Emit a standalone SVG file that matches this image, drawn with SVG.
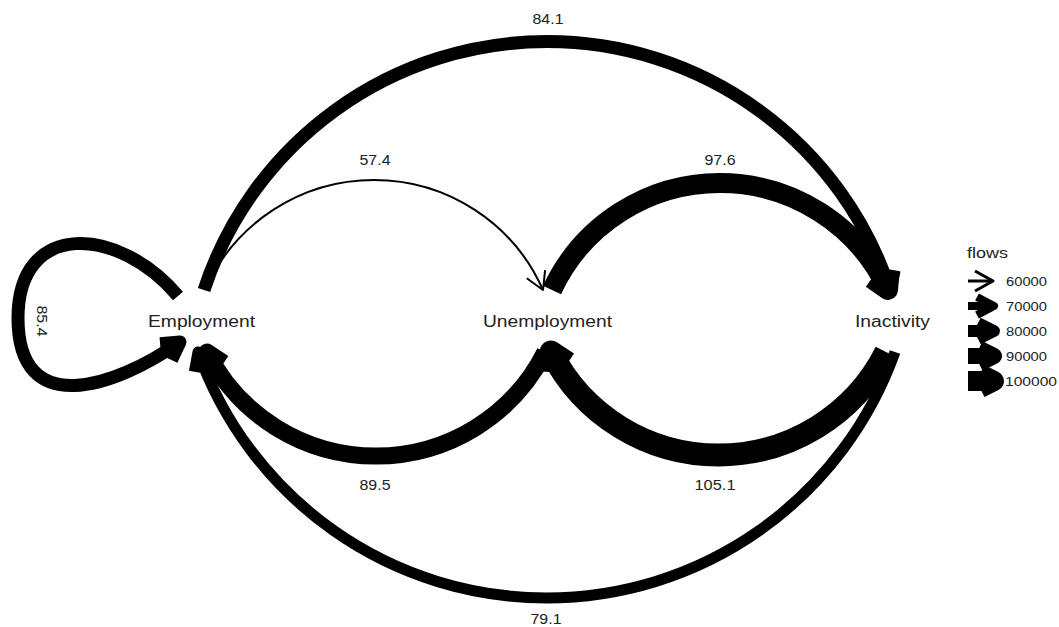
<svg xmlns="http://www.w3.org/2000/svg" width="1059" height="627" viewBox="0 0 1059 627">
<style>
.edge{fill:none;stroke:#000;stroke-linecap:butt}
.head{fill:none;stroke:#000;stroke-linecap:butt;stroke-linejoin:round}
.node{font-family:"Liberation Sans",Arial,sans-serif;font-size:16px;fill:#222;text-anchor:middle}
.lbl{font-family:"Liberation Sans",Arial,sans-serif;font-size:15px;fill:#222;text-anchor:middle}
.leg{font-family:"Liberation Sans",Arial,sans-serif;font-size:13px;fill:#222}
.legt{font-family:"Liberation Sans",Arial,sans-serif;font-size:14px;fill:#222}
</style>
<rect width="1059" height="627" fill="#fff"/>
<g id="connectors">
  <g id="e-E-I">
    <path class="edge" stroke-width="13" d="M204,290 A361,361 0 0 1 890,290"/>
    <polyline class="head" stroke-width="13" points="875.1,276.7 890,290 894.1,270.4"/>
    <text class="lbl" x="548" y="24" textLength="31" lengthAdjust="spacingAndGlyphs">84.1</text>
  </g>
  <g id="e-E-U">
    <path class="edge" stroke-width="2" d="M205,290 A184.8,184.8 0 0 1 543,290"/>
    <polyline class="head" stroke-width="2" points="526.8,278.2 543,290 545.1,270.1"/>
    <text class="lbl" x="375" y="165" textLength="31" lengthAdjust="spacingAndGlyphs">57.4</text>
  </g>
  <g id="e-U-I">
    <path class="edge" stroke-width="20" d="M552,290 A185.4,185.4 0 0 1 888,290"/>
    <polyline class="head" stroke-width="20" points="871.6,278.5 888,290 889.7,270.1"/>
    <text class="lbl" x="720" y="165" textLength="31" lengthAdjust="spacingAndGlyphs">97.6</text>
  </g>
  <g id="e-I-U">
    <path class="edge" stroke-width="23" d="M886,352 A187.7,187.7 0 0 1 551,352"/>
    <polyline class="head" stroke-width="23" points="567.7,363 551,352 549.9,372"/>
    <text class="lbl" x="715" y="490" textLength="41" lengthAdjust="spacingAndGlyphs">105.1</text>
  </g>
  <g id="e-U-E">
    <path class="edge" stroke-width="17" d="M545,352 A189.3,189.3 0 0 1 207,352"/>
    <polyline class="head" stroke-width="17" points="223.7,363 207,352 205.9,372"/>
    <text class="lbl" x="375" y="490" textLength="31" lengthAdjust="spacingAndGlyphs">89.5</text>
  </g>
  <g id="e-I-E">
    <path class="edge" stroke-width="11" d="M895,352 A369.9,369.9 0 0 1 198,352"/>
    <polyline class="head" stroke-width="11" points="213.2,365 198,352 194.4,371.7"/>
    <text class="lbl" x="546" y="624" textLength="31" lengthAdjust="spacingAndGlyphs">79.1</text>
  </g>
  <g id="e-E-E">
    <path class="edge" stroke-width="13" d="M178,296 C118,225 18,220 18,318 C18,420 114,388 180,342"/>
    <polyline class="head" stroke-width="13" points="171.5,360.1 180,342 160.1,343.7"/>
    <text class="lbl" transform="translate(37,321) rotate(90)" x="0" y="0" textLength="31" lengthAdjust="spacingAndGlyphs">85.4</text>
  </g>
</g>
<g id="node-employment"><text class="node" x="201.5" y="327" textLength="107" lengthAdjust="spacingAndGlyphs">Employment</text></g>
<g id="node-unemployment"><text class="node" x="547.5" y="327" textLength="129" lengthAdjust="spacingAndGlyphs">Unemployment</text></g>
<g id="node-inactivity"><text class="node" x="892.5" y="327" textLength="75" lengthAdjust="spacingAndGlyphs">Inactivity</text></g>
<g id="legend">
  <text class="legt" x="967" y="258" textLength="41" lengthAdjust="spacingAndGlyphs">flows</text>
  <g>
    <path class="edge" stroke-width="3" d="M968,281 H993"/>
    <polyline class="head" stroke-width="3" points="975,271 993,281 975,291"/>
    <path class="edge" stroke-width="8" d="M968,306 H994"/>
    <polyline class="head" stroke-width="8" points="977,297 994,306 977,315"/>
    <path class="edge" stroke-width="12" d="M968,331 H994"/>
    <polyline class="head" stroke-width="12" points="978,323 994,331 978,339"/>
    <path class="edge" stroke-width="16" d="M968,356 H994"/>
    <polyline class="head" stroke-width="16" points="979,348.5 994,356 979,363.5"/>
    <path class="edge" stroke-width="20" d="M968,381 H994"/>
    <polyline class="head" stroke-width="20" points="980,374 994,381 980,388"/>
  </g>
  <text class="leg" x="1006" y="286" textLength="41" lengthAdjust="spacingAndGlyphs">60000</text>
  <text class="leg" x="1006" y="311" textLength="41" lengthAdjust="spacingAndGlyphs">70000</text>
  <text class="leg" x="1006" y="336" textLength="41" lengthAdjust="spacingAndGlyphs">80000</text>
  <text class="leg" x="1006" y="361" textLength="41" lengthAdjust="spacingAndGlyphs">90000</text>
  <text class="leg" x="1005" y="386" textLength="52" lengthAdjust="spacingAndGlyphs">100000</text>
</g>
</svg>
